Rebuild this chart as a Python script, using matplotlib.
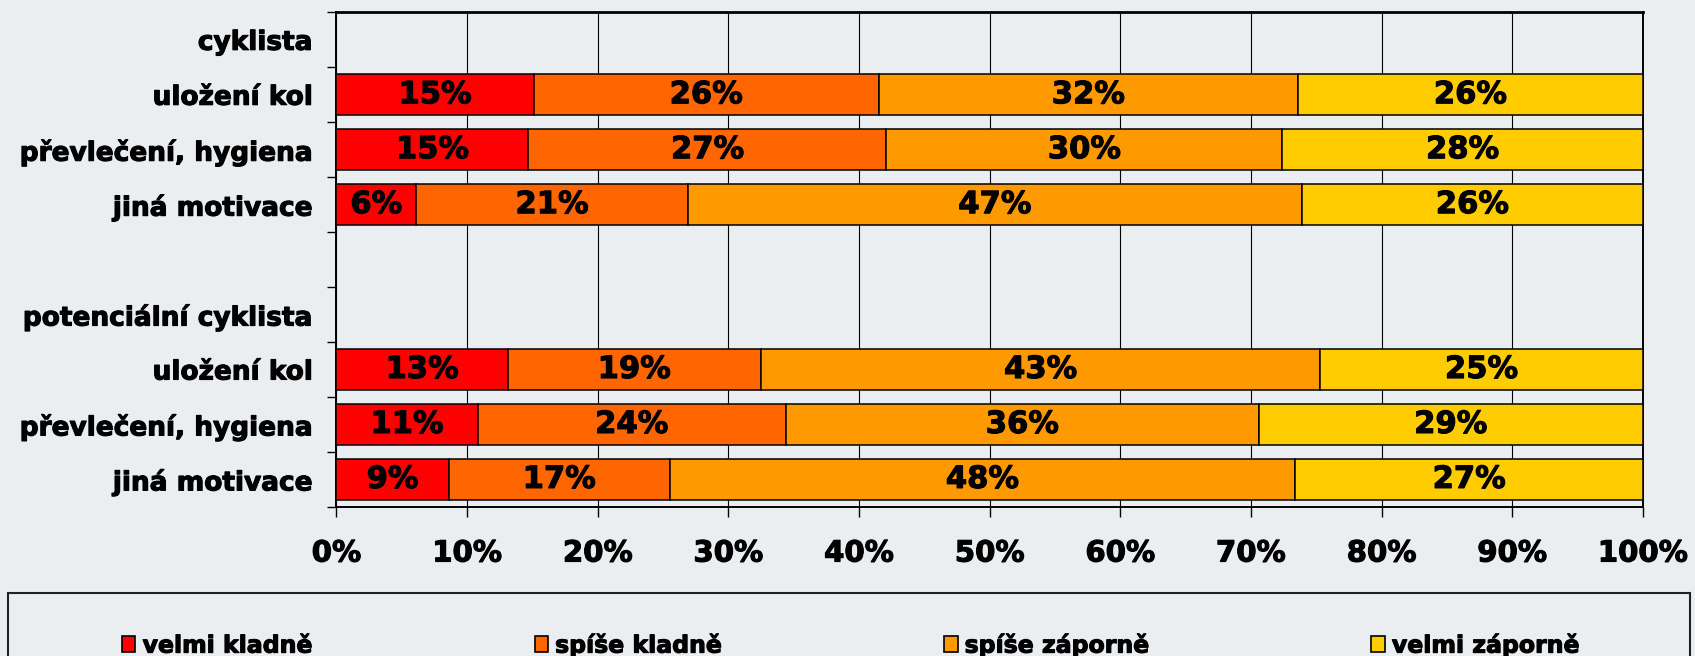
"""Stacked 100% horizontal bars: attitudes of cyclists / potential cyclists."""

import matplotlib
matplotlib.use("Agg")
import matplotlib.pyplot as plt
import matplotlib.patheffects as pe
from matplotlib.patches import Patch, Rectangle
from matplotlib.ticker import PercentFormatter, MultipleLocator
import numpy as np

## Data (shares in %, rows top to bottom, header rows have no bars).
categories = ["cyklista", "uložení kol", "převlečení, hygiena", "jiná motivace", "",
              "potenciální cyklista", "uložení kol", "převlečení, hygiena", "jiná motivace"]
velmi_kladne = [0, 15.1, 14.7, 6.1, 0, 0, 13.1, 10.8, 8.6]
spise_kladne = [0, 26.4, 27.4, 20.8, 0, 0, 19.4, 23.6, 16.9]
spise_zaporne = [0, 32.1, 30.3, 47.0, 0, 0, 42.8, 36.2, 47.9]
velmi_zaporne = [0, 26.4, 27.6, 26.1, 0, 0, 24.7, 29.4, 26.6]

series_names = ["velmi kladně", "spíše kladně", "spíše záporně", "velmi záporně"]
colors = ["#FF0000", "#FF6600", "#FF9900", "#FFCC00"]
bg = "#EAEEF0"

plt.rcParams["font.family"] = "DejaVu Sans"
plt.rcParams["font.weight"] = "bold"

# Thicken glyphs a bit (the original used a heavier font).
heavy = [pe.withStroke(linewidth=0.8, foreground="black")]

fig = plt.figure(figsize=(16.95, 6.56), dpi=100, facecolor=bg)
ax = fig.add_axes([0.1985, 0.2273, 0.7707, 0.7539], facecolor=bg)

y = np.arange(len(categories))
left = np.zeros(len(categories))
for vals, col in zip([velmi_kladne, spise_kladne, spise_zaporne, velmi_zaporne], colors):
    vals = np.array(vals)
    bars = ax.barh(y, vals, left=left, height=0.75, color=col,
                   edgecolor="black", linewidth=1.1, zorder=3)
    for b, v, l in zip(bars, vals, left):
        if v > 0:
            ax.text(l + v / 2, b.get_y() + b.get_height() / 2, f"{v:.0f}%",
                    ha="center", va="center", fontsize=22, fontweight="bold",
                    zorder=4, path_effects=heavy)
    left += vals

# Axes, ticks, grid.
ax.set_xlim(0, 100)
ax.set_ylim(len(categories) - 0.5, -0.5)
ax.xaxis.set_major_locator(MultipleLocator(10))
ax.xaxis.set_major_formatter(PercentFormatter(decimals=0))
ax.grid(axis="x", color="black", linewidth=0.8, zorder=0)
ax.set_axisbelow(True)

ax.set_yticks(y)
ax.set_yticklabels(categories)
ax.set_yticks(np.arange(-0.5, len(categories)), minor=True)
ax.tick_params(axis="y", which="major", length=0, pad=17, labelsize=19)
ax.tick_params(axis="y", which="minor", length=6.5, width=1, direction="out")
ax.tick_params(axis="x", length=7.5, width=1, direction="out", pad=16, labelsize=21)
for lbl in ax.get_xticklabels() + ax.get_yticklabels():
    lbl.set_path_effects(heavy)

for side in ["left", "right", "bottom"]:
    ax.spines[side].set_linewidth(1.4)
ax.spines["top"].set_linewidth(2)

# Legend box at the bottom (cut off by the figure edge).
fig.patches.append(Rectangle((0.0047, -0.2), 0.9925, 0.296, transform=fig.transFigure,
                             facecolor="none", edgecolor="#222222", linewidth=1.5))
handles = [Patch(facecolor=c, edgecolor="black", linewidth=1.2) for c in colors]
leg = fig.legend(handles, series_names, loc="center left", ncol=4, mode="expand",
                 bbox_to_anchor=(0.072, 0.017, 0.86, 0), frameon=False,
                 fontsize=17, handlelength=0.57, handleheight=0.64, handletextpad=0.3,
                 borderpad=0, borderaxespad=0)
for t in leg.get_texts():
    t.set_path_effects(heavy)

fig.savefig("out.png", dpi=100, facecolor=bg)
